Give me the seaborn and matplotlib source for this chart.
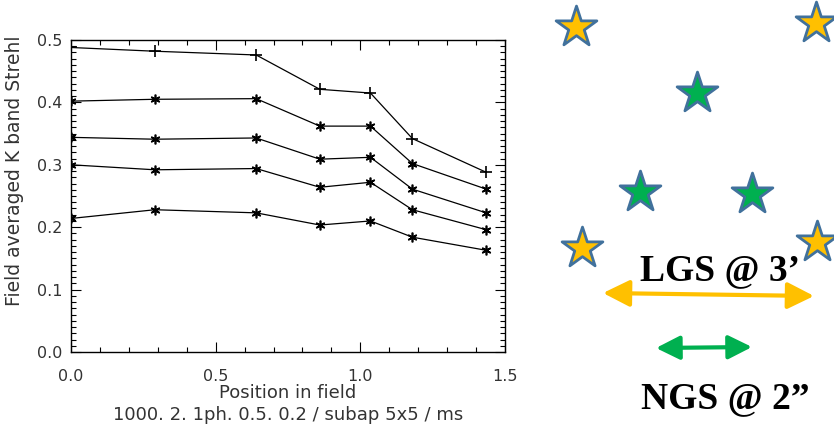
import numpy as np
import pandas as pd
import matplotlib
matplotlib.use("Agg")
import matplotlib.pyplot as plt
import seaborn as sns
from matplotlib.ticker import MultipleLocator

# ---------------- data ----------------
positions = [0.0, 0.29, 0.64, 0.86, 1.035, 1.18, 1.435]
strehl_top = [0.488, 0.482, 0.476, 0.421, 0.415, 0.342, 0.288]
strehl_2 = [0.402, 0.405, 0.406, 0.362, 0.362, 0.302, 0.261]
strehl_3 = [0.344, 0.341, 0.343, 0.309, 0.312, 0.261, 0.223]
strehl_4 = [0.300, 0.292, 0.294, 0.264, 0.272, 0.228, 0.196]
strehl_5 = [0.214, 0.228, 0.223, 0.2035, 0.210, 0.184, 0.163]
series_names = ["s1", "s2", "s3", "s4", "s5"]
x_ticks = [0.0, 0.5, 1.0, 1.5]
y_ticks = [0.0, 0.1, 0.2, 0.3, 0.4, 0.5]

# guide-star diagram (figure pixel coordinates)
lgs_stars_x = [576, 816, 582, 817]
lgs_stars_y = [27, 23, 248, 242]
ngs_stars_x = [697, 640, 752]
ngs_stars_y = [93, 192, 194]

sns.set_style("ticks")
plt.rcParams["font.family"] = ["DejaVu Sans"]

fig = plt.figure(figsize=(8.34, 4.25), dpi=100)
W, H = 834, 425
ax = fig.add_axes([71 / W, 1 - 352 / H, (505 - 71) / W, (352 - 40) / H])

rows = []
for name, vals in zip(series_names, [strehl_top, strehl_2, strehl_3, strehl_4, strehl_5]):
    for x, v in zip(positions, vals):
        rows.append({"pos": x, "strehl": v, "series": name})
df = pd.DataFrame(rows)

for name in series_names:
    sub = df[df["series"] == name]
    mk = "+" if name == "s1" else (6, 2, 0)
    sns.lineplot(data=sub, x="pos", y="strehl", ax=ax, color="black", lw=0.9,
                 marker=mk, markersize=8 if name == "s1" else 7,
                 markeredgewidth=1.2, markeredgecolor="black", legend=False)

ax.set_xlim(0, 1.5)
ax.set_ylim(0, 0.5)
ax.set_xticks(x_ticks)
ax.set_xticklabels([f"{t:.1f}" for t in x_ticks])
ax.set_yticks(y_ticks)
ax.set_yticklabels([f"{t:.1f}" for t in y_ticks])
ax.xaxis.set_minor_locator(MultipleLocator(0.1))
ax.yaxis.set_minor_locator(MultipleLocator(0.01))
ax.tick_params(which="both", direction="in", top=True, right=True,
               colors="black", labelcolor="#333333", labelsize=11.5, width=0.8)
ax.tick_params(which="major", length=7)
ax.tick_params(which="minor", length=3.5)
ax.tick_params(axis="x", which="major", pad=12)
ax.tick_params(axis="y", which="major", pad=6)
for s in ax.spines.values():
    s.set_color("black")
    s.set_linewidth(1.0)

ax.set_xlabel("Position in field\n1000. 2. 1ph. 0.5. 0.2 / subap 5x5 / ms",
              fontsize=13, color="#333333", linespacing=1.25)
ax.xaxis.set_label_coords(0.5, (352 - 384) / 312)
ax.xaxis.label.set_va("top")
ax.set_ylabel("Field averaged K band Strehl", fontsize=13.5, color="#333333")
ax.yaxis.set_label_coords((15 - 71) / 434, (352 - 171) / 312)
ax.yaxis.label.set_va("center")

# ---------------- right-hand diagram ----------------
ov = fig.add_axes([0, 0, 1, 1], facecolor="none")

ov.text(720, 271, "LGS @ 3\u2019", fontsize=27, fontweight="bold",
        family="Liberation Serif", ha="center", va="center", color="black", zorder=2)
ov.text(725, 399, "NGS @ 2\u201d", fontsize=27, fontweight="bold",
        family="Liberation Serif", ha="center", va="center", color="black", zorder=2)

sns.scatterplot(x=lgs_stars_x, y=lgs_stars_y, ax=ov, marker="*", s=950,
                color="#FFC000", edgecolor="#41719C", linewidth=2, zorder=5, legend=False)
sns.scatterplot(x=ngs_stars_x, y=ngs_stars_y, ax=ov, marker="*", s=950,
                color="#00B050", edgecolor="#41719C", linewidth=2, zorder=5, legend=False)
ov.set_xlim(0, W)
ov.set_ylim(H, 0)
ov.axis("off")

ov.annotate("", xy=(814, 296), xytext=(603, 293),
            arrowprops=dict(arrowstyle="<|-|>,head_length=0.9,head_width=0.45",
                            color="#FFC000", lw=3, mutation_scale=18, shrinkA=0, shrinkB=0))
ov.annotate("", xy=(752, 347), xytext=(656, 348),
            arrowprops=dict(arrowstyle="<|-|>,head_length=0.9,head_width=0.45",
                            color="#00B050", lw=3, mutation_scale=16, shrinkA=0, shrinkB=0))

fig.savefig("out.png", dpi=100)
